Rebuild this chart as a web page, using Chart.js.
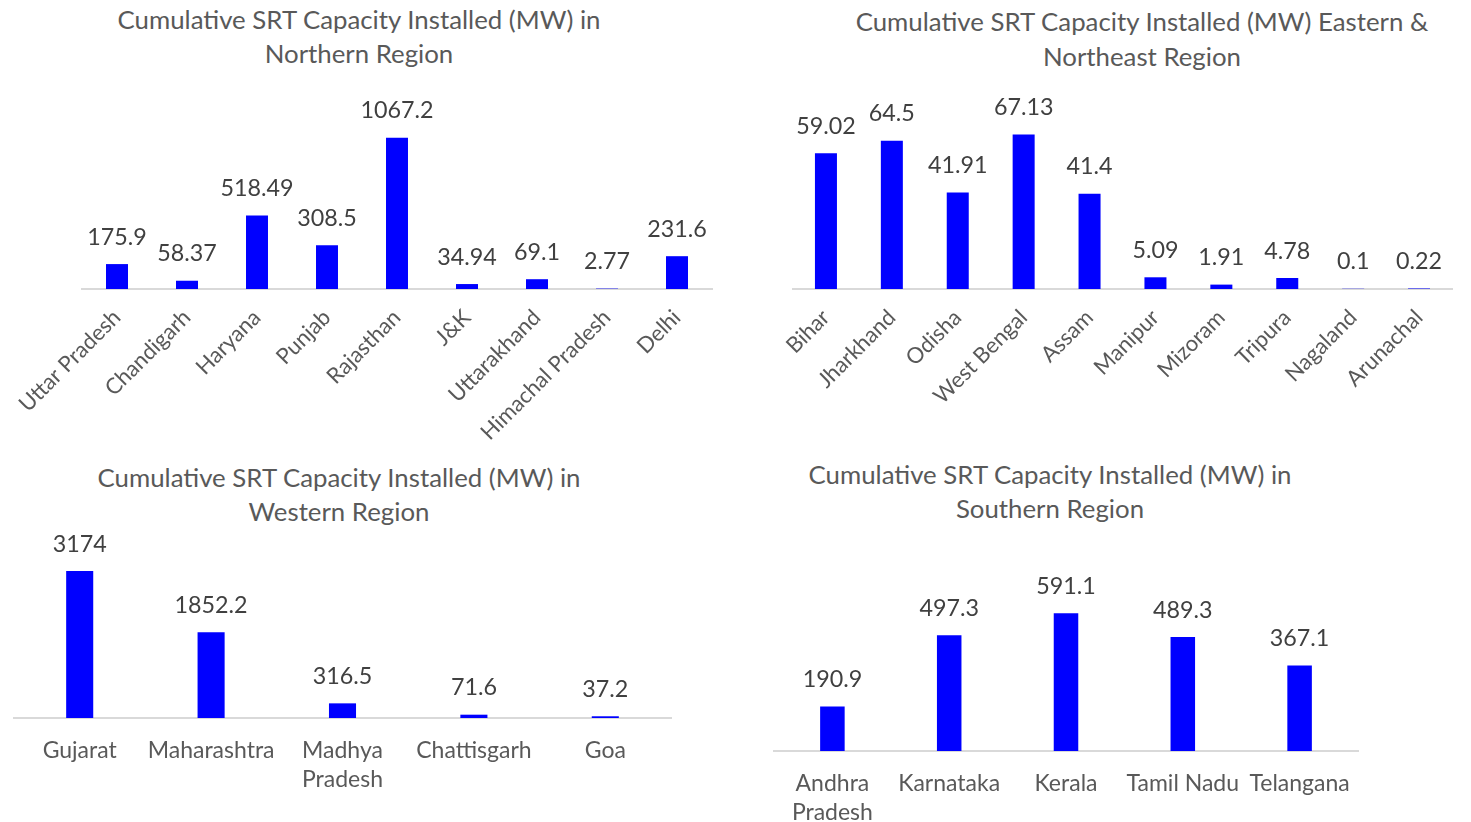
<!DOCTYPE html>
<html><head><meta charset="utf-8">
<script src="https://cdn.jsdelivr.net/npm/chart.js@4"></script>
<style>
html,body{margin:0;padding:0;background:#fff;}
body{width:1471px;height:822px;overflow:hidden;position:relative;font-family:Lato,sans-serif}
canvas{position:absolute}
.title{position:absolute;color:#595959;font-family:Lato,sans-serif;font-size:25.8px;text-align:center;line-height:34px;white-space:nowrap}
</style></head><body>
<div class="title" style="left:0;top:2px;width:718px">Cumulative SRT Capacity Installed (MW) in<br>Northern Region</div>
<div class="title" style="left:782px;top:4px;width:720px;line-height:35px">Cumulative SRT Capacity Installed (MW) Eastern &amp;<br>Northeast Region</div>
<div class="title" style="left:0;top:460px;width:678px">Cumulative SRT Capacity Installed (MW) in<br>Western Region</div>
<div class="title" style="left:690px;top:457px;width:720px">Cumulative SRT Capacity Installed (MW) in<br>Southern Region</div>
<canvas id="cN" width="730" height="450" style="left:0;top:0"></canvas>
<canvas id="cE" width="731" height="450" style="left:740px;top:0"></canvas>
<canvas id="cW" width="700" height="372" style="left:0;top:450px"></canvas>
<canvas id="cS" width="711" height="372" style="left:760px;top:450px"></canvas>
<script>
const northStates = ['Uttar Pradesh','Chandigarh','Haryana','Punjab','Rajasthan','J&K','Uttarakhand','Himachal Pradesh','Delhi'];
const northValues = [175.9, 58.37, 518.49, 308.5, 1067.2, 34.94, 69.1, 2.77, 231.6];

const eastStates = ['Bihar','Jharkhand','Odisha','West Bengal','Assam','Manipur','Mizoram','Tripura','Nagaland','Arunachal'];
const eastValues = [59.02, 64.5, 41.91, 67.13, 41.4, 5.09, 1.91, 4.78, 0.1, 0.22];

const westStates = ['Gujarat','Maharashtra',['Madhya','Pradesh'],'Chattisgarh','Goa'];
const westValues = [3174, 1852.2, 316.5, 71.6, 37.2];

const southStates = [['Andhra','Pradesh'],'Karnataka','Kerala','Tamil Nadu','Telangana'];
const southValues = [190.9, 497.3, 591.1, 489.3, 367.1];

const valueLabels = {
  id:'valueLabels',
  afterDatasetsDraw(chart){
    const ctx = chart.ctx, meta = chart.getDatasetMeta(0), vals = chart.data.datasets[0].data;
    ctx.save();
    ctx.font = '23.3px Lato, sans-serif';
    ctx.fillStyle = '#404040';
    ctx.textAlign = 'center';
    ctx.textBaseline = 'middle';
    meta.data.forEach((bar,i)=>{ ctx.fillText(String(vals[i]), bar.x, bar.y - 27); });
    ctx.restore();
  }
};

function makeChart(id, labels, values, o){
  return new Chart(document.getElementById(id), {
    type:'bar',
    data:{labels:labels, datasets:[{data:values, backgroundColor:'#0000ff', borderWidth:0, barPercentage:o.bp, categoryPercentage:1}]},
    options:{
      responsive:false, animation:false, devicePixelRatio:1,
      layout:{padding:{top:o.top,left:o.left,right:o.right,bottom:0}},
      plugins:{legend:{display:false},tooltip:{enabled:false},title:{display:false}},
      scales:{
        x:{
          grid:{display:false, drawTicks:false},
          border:{display:true,color:'#d9d9d9',width:2},
          ticks:{color:'#595959',font:{family:'Lato',size:o.tickSize,lineHeight:1.27},maxRotation:o.rot,minRotation:o.rot,autoSkip:false,padding:o.tickPad},
          afterFit(s){ s.height = o.axisH; s.paddingLeft = 0; s.paddingRight = 0; }
        },
        y:{display:false,min:0,max:o.max}
      }
    },
    plugins:[valueLabels]
  });
}

makeChart('cN', northStates, northValues, {bp:0.314, top:119, left:82, right:18, axisH:161, rot:45, tickPad:15, tickSize:22, max:1200});
makeChart('cE', eastStates, eastValues, {bp:0.334, top:105, left:53, right:19, axisH:161, rot:45, tickPad:15, tickSize:22, max:80});
makeChart('cW', westStates, westValues, {bp:0.206, top:106, left:14, right:29, axisH:104, rot:0, tickPad:18, tickSize:23, max:3500});
makeChart('cS', southStates, southValues, {bp:0.21, top:138, left:14, right:113, axisH:71, rot:0, tickPad:18, tickSize:23, max:700});
</script>
</body></html>
